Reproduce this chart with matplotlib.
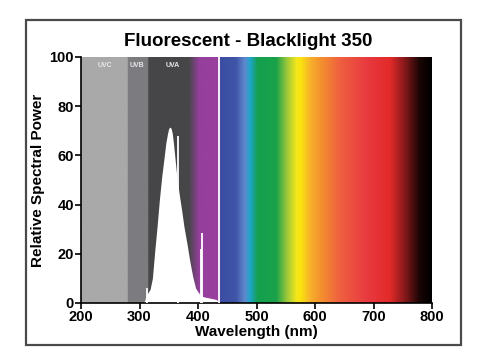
import numpy as np
import matplotlib
matplotlib.use("Agg")
import matplotlib.pyplot as plt
import matplotlib.colors as mcolors
from matplotlib.patches import Rectangle

plt.rcParams['font.family'] = ['Liberation Sans', 'DejaVu Sans']
plt.rcParams['font.weight'] = 'bold'

# continuum of the lamp (nm, relative power)
wavelength = [300, 306, 309, 311, 314, 318, 322, 326, 330, 334, 338, 342, 345,
              348, 350, 352, 354, 356, 358, 361, 364, 368, 372, 376, 381, 386,
              391, 396, 400, 405, 410, 420, 430, 434, 435]
power = [0, 0, 1, 3, 4, 5.5, 10, 21, 31, 42, 51.4, 59, 65,
         69, 71, 71.5, 71, 69, 65, 58, 51, 44, 37.8, 31, 24.3, 17,
         10.7, 6, 4.5, 3, 2.5, 2, 1.5, 1, 0]

# mercury emission lines
line_nm = [313, 365, 404.5, 406, 436]
line_power = [6, 68, 22, 28.5, 100]

# ultraviolet bands
band_names = ["UVC", "UVB", "UVA"]
band_pos = [241, 296, 357]

# background colour stops (nm, colour)
stop_nm = [200, 280, 280, 315, 315, 384, 402, 432, 437, 438, 465, 480, 489,
           502, 534, 552, 569, 576, 592, 614, 643, 690, 728, 752, 779, 800]
stop_col = ["#a9a9a9", "#a9a9a9", "#7c7c80", "#7c7c80", "#464648", "#464648",
            "#953f9c", "#9a3f9e", "#8a48a8", "#3b4da2", "#4055a8", "#6088cc",
            "#1fa6cc", "#14a050", "#19a24a", "#9ac83a", "#f6e71a", "#fae20f",
            "#f7b12a", "#f38a30", "#ef6040", "#e8393f", "#e42a2a", "#8c1a1c",
            "#1a0505", "#000000"]

fig = plt.figure(figsize=(4.79, 3.64), dpi=100)
ax = fig.add_axes([81 / 479, 61 / 364, 351 / 479, 246 / 364])

grid = np.linspace(200, 800, 1200)
rgb = np.array([mcolors.to_rgb(c) for c in stop_col])
img = np.stack([np.interp(grid, stop_nm, rgb[:, k]) for k in range(3)], axis=-1)
ax.imshow(img[np.newaxis, :, :], extent=[200, 800, 0, 100], aspect='auto',
          interpolation='bilinear', zorder=0)

ax.fill_between(wavelength, power, 0, color='white', lw=0, zorder=2)
ax.vlines(line_nm, 0, line_power, color='white', lw=1.3, zorder=3)

for name, x in zip(band_names, band_pos):
    ax.text(x, 96.5, name, color='#e6e6e6', fontsize=5, ha='center', va='center',
            fontweight='bold', zorder=4)

ax.set_xlim(200, 800)
ax.set_ylim(0, 100)
ax.set_xticks(range(200, 801, 100))
ax.set_yticks(range(0, 101, 20))
for s in ['top', 'right']:
    ax.spines[s].set_visible(False)
for s in ['left', 'bottom']:
    ax.spines[s].set_linewidth(1.2)
ax.tick_params(direction='out', length=4, width=1.2, labelsize=10.5, pad=1)
for lab in ax.get_xticklabels() + ax.get_yticklabels():
    lab.set_fontweight('bold')
ax.set_xlabel("Wavelength (nm)", fontsize=11, fontweight='bold', labelpad=1)
ax.set_ylabel("Relative Spectral Power", fontsize=11, fontweight='bold', labelpad=3)

fig.text(248 / 479, 1 - 42 / 364, "Fluorescent - Blacklight 350", fontsize=13.5,
         fontweight='bold', ha='center', va='center')

frame = Rectangle((26 / 479, 19 / 364), 435 / 479, 325 / 364, transform=fig.transFigure,
                  fill=False, edgecolor='#4a4a4a', lw=1.6)
fig.patches.append(frame)

fig.savefig("out.png", dpi=100)
